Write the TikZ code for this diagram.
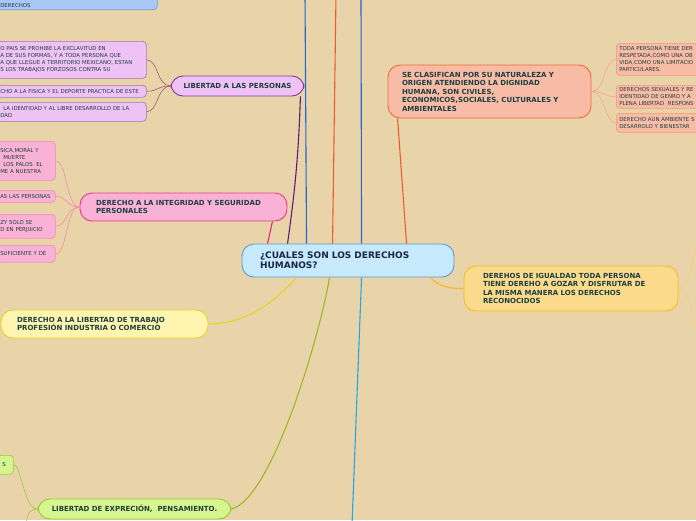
\documentclass[tikz,border=0pt]{standalone}
\usepackage{fontspec}
\setmainfont{DejaVu Sans}
\usepackage{xcolor}
\usepackage{tikz}
\usetikzlibrary{calc}

\definecolor{fondo}{HTML}{E9D4A9}
\definecolor{textoc}{HTML}{1D3F3F}
\definecolor{textoa}{HTML}{1A2745}
\definecolor{azulf}{HTML}{A9C8F5}\definecolor{azulb}{HTML}{6A9AE0}
\definecolor{celf}{HTML}{C6E9FB}\definecolor{celb}{HTML}{5A9CD0}
\definecolor{lilaf}{HTML}{EEC2F5}\definecolor{lilab}{HTML}{7E3A96}\definecolor{lilal}{HTML}{5E1A78}
\definecolor{rosaf}{HTML}{F9B2D5}\definecolor{rosab}{HTML}{E83B80}\definecolor{rosal}{HTML}{F0207A}
\definecolor{salf}{HTML}{F8BCA6}\definecolor{salb}{HTML}{F06A3A}\definecolor{sall}{HTML}{F05A28}
\definecolor{amaf}{HTML}{FBDA8C}\definecolor{amab}{HTML}{F7B928}
\definecolor{cremf}{HTML}{FFF4B0}\definecolor{cremb}{HTML}{E6D22A}
\definecolor{verf}{HTML}{D6F58E}\definecolor{verb}{HTML}{98C83A}\definecolor{verl}{HTML}{98BA20}
\definecolor{azull}{HTML}{1F66D0}\definecolor{cianl}{HTML}{1EA8E8}

\begin{document}
\begin{tikzpicture}[x=1pt, y=-1pt,
    tema/.style={draw, line width=0.9pt, rounded corners=12pt, text=textoc,
      font=\fontsize{7}{8.5}\selectfont\bfseries, align=left},
    hoja/.style={draw, line width=0.6pt, rounded corners=3.5pt, text=textoc,
      font=\fontsize{5.4}{6.9}\selectfont, align=left, inner ysep=2pt,
      inner xsep=3pt, anchor=north west},
    rama/.style={line width=1.1pt},
    ramita/.style={line width=0.55pt}]
    \fill[fondo] (0,0) rectangle (696,520);
    \useasboundingbox (0,0) rectangle (696,520);
    \clip (0,0) rectangle (696,520);

    % nodo central
    \node[tema, fill=celf, draw=celb, text=textoa, font=\fontsize{9}{10}\selectfont\bfseries,
      inner xsep=18pt, text width=176pt, minimum height=33pt] (ctr) at (348,260.5)
      {¿CUALES SON LOS DERECHOS\\HUMANOS?};

    % temas
    \node[tema, fill=lilaf, draw=lilab, minimum width=133pt, minimum height=20pt, align=center]
      (lib) at (237.5,86) {LIBERTAD A LAS PERSONAS};
    \node[tema, fill=rosaf, draw=rosab, inner xsep=16pt, text width=175pt, minimum height=28pt]
      (integ) at (183.5,207) {DERECHO A LA INTEGRIDAD Y SEGURIDAD\\PERSONALES};
    \node[tema, fill=cremf, draw=cremb, inner xsep=16pt, text width=175pt, minimum height=28pt]
      (trab) at (104.5,324) {DERECHO A LA LIBERTAD DE TRABAJO\\PROFESIÓN INDUSTRIA O COMERCIO};
    \node[tema, fill=verf, draw=verb, minimum width=193pt, minimum height=20pt, align=center]
      (expr) at (134.5,509) {LIBERTAD DE EXPRECIÓN,\ \ PENSAMIENTO.};
    \node[tema, fill=salf, draw=salb, inner xsep=14pt, text width=175pt, minimum height=53pt]
      (clas) at (489.5,91.5) {SE CLASIFICAN POR SU NATURALEZA Y\\ORIGEN ATENDIENDO LA DIGNIDAD\\HUMANA, SON CIVILES,\\ECONOMICOS,SOCIALES, CULTURALES Y\\AMBIENTALES};
    \node[tema, fill=amaf, draw=amab, inner xsep=19pt, text width=176pt, minimum height=45pt]
      (igual) at (571,288.5) {DEREHOS DE IGUALDAD TODA PERSONA\\TIENE DEREHO A GOZAR Y DISFRUTAR DE\\LA MISMA MANERA LOS DERECHOS\\RECONOCIDOS};

    % hojas
    \node[hoja, fill=azulf, draw=azulb, text width=154pt, anchor=south west, inner ysep=2.5pt] (az1) at (-3,10)
      {\strut\\DERECHOS};
    \node[hoja, fill=lilaf, draw=lilab!70, text width=143pt, minimum height=37pt] (lp1) at (-3,41)
      {O PAIS SE PROHIBE LA EXCLAVITUD EN\\A DE SUS FORMAS, Y A TODA PERSONA QUE\\A QUE LLEGUE A TERRITORIO MEXICANO, ESTAN\\S LOS TRABAJOS FORZOSOS CONTRA SU};
    \node[hoja, fill=lilaf, draw=lilab!70, text width=143pt, minimum height=12pt] (lp2) at (-3,85)
      {CHO A LA FISICA Y EL DEPORTE PRACTICA DE ESTE};
    \node[hoja, fill=lilaf, draw=lilab!70, text width=143pt, minimum height=19pt] (lp3) at (-3,102)
      {\hspace*{3pt}LA IDENTIDAD Y AL LIBRE DESARROLLO DE LA\\DAD};
    \node[hoja, fill=rosaf, draw=rosab!60, text width=52pt, minimum height=39pt] (rs1) at (-3,141)
      {SICA,MORAL Y\\\hspace*{3pt}MUERTE\\\hspace*{3pt}LOS PALOS\ \ EL\\ME A NUESTRA};
    \node[hoja, fill=rosaf, draw=rosab!60, text width=52pt, minimum height=12pt] (rs2) at (-3,190)
      {AS LAS PERSONAS};
    \node[hoja, fill=rosaf, draw=rosab!60, text width=52pt, minimum height=24pt] (rs3) at (-3,214)
      {ZY SOLO SE\\D EN PERJUICIO};
    \node[hoja, fill=rosaf, draw=rosab!60, text width=52pt, minimum height=17pt] (rs4) at (-3,245)
      {SUFICIENTE Y DE};
    \node[hoja, fill=salf, draw=salb!70, text width=100pt, minimum height=32pt] (sa1) at (616,43)
      {TODA PERSONA TIENE DER\\RESPETADA,COMO UNA OB\\VIDA,COMO UNA LIMITACIO\\PARTICULARES.};
    \node[hoja, fill=salf, draw=salb!70, text width=100pt, minimum height=23pt] (sa2) at (616,85)
      {DERECHOS SEXUALES Y RE\\IDENTIDAD DE GENRO Y A\\PLENA LIBERTAD\ \ RESPONS};
    \node[hoja, fill=salf, draw=salb!70, text width=100pt, minimum height=19pt] (sa3) at (616,113)
      {DERECHO AUN AMBIENTE S\\DESARROLO Y BIENESTAR};
    \node[hoja, fill=verf, draw=verb, text width=10pt, minimum height=19pt] (gs1) at (-3,455)
      {\hspace*{2pt}S};

    % ramas principales
    \draw[rama, lilal] ($(lib.south east)+(-4,0)$) to[bend left=3] ($(ctr.north west)+(46,0)$);
    \draw[rama, rosal] ($(integ.south east)+(-15,0)$) -- ($(ctr.north west)+(26,0)$);
    \draw[rama, sall] ($(clas.south west)+(10,0)$) -- ($(ctr.north west)+(165,0)$);
    \draw[rama, amab] ($(ctr.south east)+(-24,0)$) .. controls +(8,10) and +(-12,0) .. (igual.west);
    \draw[rama, cremb] (trab.east) .. controls +(40,0) and +(-20,22) .. ($(ctr.south west)+(55,0)$);
    \draw[rama, verl] (expr.east) .. controls +(40,-10) and +(-10,60) .. ($(ctr.south west)+(88,0)$);
    \coordinate (up1) at (305,-5);
    \coordinate (up2) at (336,-5);
    \coordinate (up3) at (361,-5);
    \coordinate (dn1) at (352,525);
    \draw[rama, azull] ($(ctr.north west)+(65,0)$) -- (up1);
    \draw[rama, sall] ($(ctr.north west)+(91,0)$) -- (up2);
    \draw[rama, azull] ($(ctr.north west)+(120,0)$) -- (up3);
    \draw[rama, cianl] ($(ctr.south west)+(120,0)$) -- (dn1);

    % ramitas
    \foreach \h in {lp1,lp2,lp3}
      \draw[ramita, lilab!60!brown] (lib.west) .. controls +(-14,0) and +(12,0) .. (\h.east);
    \foreach \h in {rs1,rs2,rs3,rs4}
      \draw[ramita, rosab!60] (integ.west) .. controls +(-14,0) and +(12,0) .. (\h.east);
    \foreach \h in {sa1,sa2,sa3}
      \draw[ramita, salb!60] (clas.east) .. controls +(14,0) and +(-12,0) .. (\h.west);
    \coordinate (ig1) at (700,245);
    \coordinate (ig2) at (700,335);
    \foreach \h in {ig1,ig2}
      \draw[ramita, amab!70] (igual.east) .. controls +(14,0) and +(-8,0) .. (\h);
    \coordinate (gs2) at (26,525);
    \draw[ramita, verb] (expr.west) .. controls +(-14,0) and +(8,0) .. (gs1.east);
    \draw[ramita, verb] (expr.west) .. controls +(-10,0) and +(0,-6) .. (gs2);
\end{tikzpicture}
\end{document}
